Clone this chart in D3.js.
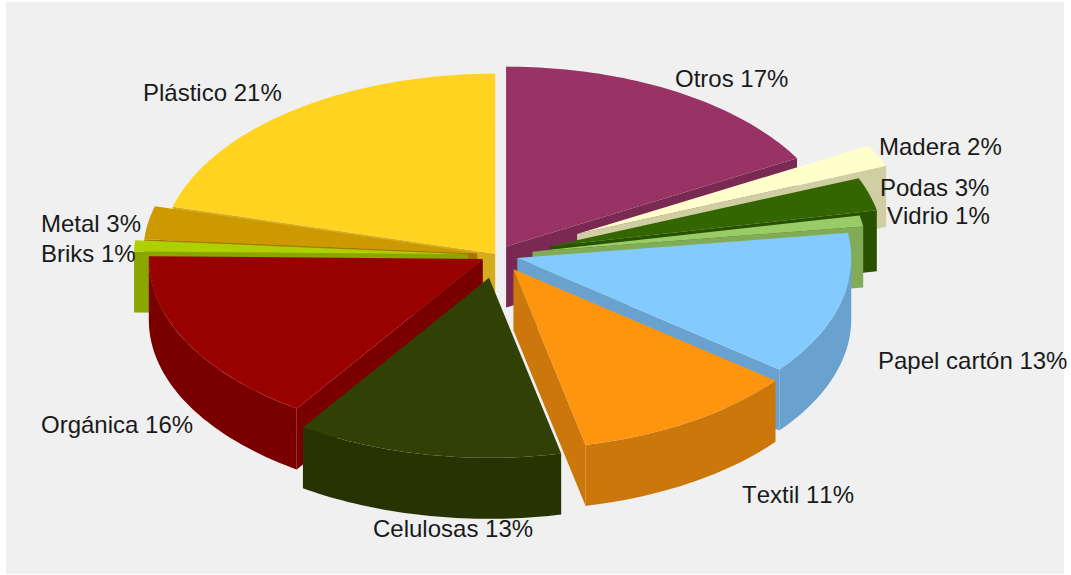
<!DOCTYPE html>
<html lang="es">
<head>
<meta charset="utf-8">
<title>Composición de residuos</title>
<script src="https://cdn.jsdelivr.net/npm/d3@7/dist/d3.min.js"></script>
<style>
  html, body { margin: 0; padding: 0; background: #fff; }
  svg { display: block; }
  text { font-family: "Liberation Sans", Arial, sans-serif; font-size: 24px; font-kerning: none; fill: #1a1a1a; }
</style>
</head>
<body>
<svg id="chart" width="1071" height="575"></svg>
<script>
// Waste categories, clockwise from twelve o'clock
const categories = ["Otros", "Madera", "Podas", "Vidrio", "Papel cartón", "Textil",
                    "Celulosas", "Orgánica", "Briks", "Metal", "Plástico"];
const shares = [17, 2, 3, 1, 13, 11, 13, 16, 1, 3, 21];

// How far each wedge is pulled out of the pie, in plan units
const pullOut = [18, 89, 55, 36, 21, 31, 43, 16, 29, 20, 3];

const topColors = ["#993366", "#ffffcc", "#336600", "#99cc66", "#83caff", "#ff950e",
                   "#314004", "#990000", "#aecf00", "#cc9900", "#ffd320"];
const wallColors = ["#7a2952", "#cfcfa3", "#295200", "#82ab58", "#6aa2cf", "#cc770b",
                    "#283303", "#7a0000", "#8ca600", "#a37a00", "#d4ac1c"];

// Wedges painted back to front (indices into categories)
const paintOrder = [10, 0, 9, 1, 2, 3, 8, 4, 7, 5, 6];

// Label anchors: left edge and baseline of each text
const labelLeft = [675, 879, 880, 887, 878, 742, 373, 41, 41, 41, 143];
const labelBaseline = [87, 155, 196, 224, 369, 503, 537, 433, 262, 232, 101];

const radius = 334, depth = 61;

// Plan coordinates (1 = one pie radius) to screen coordinates
const sx = d3.scaleLinear().domain([0, 1]).range([497, 497 + radius]);
const sy = d3.scaleLinear().domain([0, 1]).range([255, 255 + 180]);

const svg = d3.select("#chart");

svg.append("rect")
  .attr("x", 6).attr("y", 2)
  .attr("width", 1058).attr("height", 572)
  .attr("fill", "#f0f0f0");

const pie = d3.pie().sort(null).startAngle(0).endAngle(2 * Math.PI);
const wedges = pie(shares);

const line = d3.line().x(p => p[0]).y(p => p[1]);

function geometry(i) {
  const w = wedges[i];
  const mid = (w.startAngle + w.endAngle) / 2;
  const off = pullOut[i] / radius;
  const ax = Math.sin(mid) * off;
  const ay = -Math.cos(mid) * off;
  const rim = a => [sx(ax + Math.sin(a)), sy(ay - Math.cos(a))];
  return { w, apex: [sx(ax), sy(ay)], rim };
}

const drop = (pts) => pts.map(p => [p[0], p[1] + depth]);

function arcSamples(a0, a1) {
  const n = Math.max(2, Math.ceil((a1 - a0) / 0.02));
  return d3.range(n + 1).map(k => a0 + (a1 - a0) * k / n);
}

function wedgeParts(i) {
  const { w, apex, rim } = geometry(i);
  const a0 = w.startAngle, a1 = w.endAngle;
  const parts = [];

  // Radial cut faces, kept only when they look toward the viewer
  if (Math.sin(a0) < 0) {
    const edge = [apex, rim(a0)];
    parts.push({ d: line([...edge, ...drop(edge).reverse()]) + "Z", fill: wallColors[i] });
  }
  if (Math.sin(a1) > 0) {
    const edge = [apex, rim(a1)];
    parts.push({ d: line([...edge, ...drop(edge).reverse()]) + "Z", fill: wallColors[i] });
  }

  // Curved rim, front half only
  const f0 = Math.max(a0, Math.PI / 2), f1 = Math.min(a1, 3 * Math.PI / 2);
  if (f1 > f0) {
    const edge = arcSamples(f0, f1).map(rim);
    parts.push({ d: line([...edge, ...drop(edge).reverse()]) + "Z", fill: wallColors[i] });
  }

  // Top face
  const outline = [apex, ...arcSamples(a0, a1).map(rim)];
  parts.push({ d: line(outline) + "Z", fill: topColors[i] });
  return parts;
}

svg.append("g").selectAll("g")
  .data(paintOrder)
  .join("g")
  .selectAll("path")
  .data(i => wedgeParts(i))
  .join("path")
  .attr("d", d => d.d)
  .attr("fill", d => d.fill);

svg.append("g").selectAll("text")
  .data(categories)
  .join("text")
  .attr("x", (d, i) => labelLeft[i])
  .attr("y", (d, i) => labelBaseline[i])
  .text((d, i) => `${d} ${shares[i]}%`);
</script>
</body>
</html>
